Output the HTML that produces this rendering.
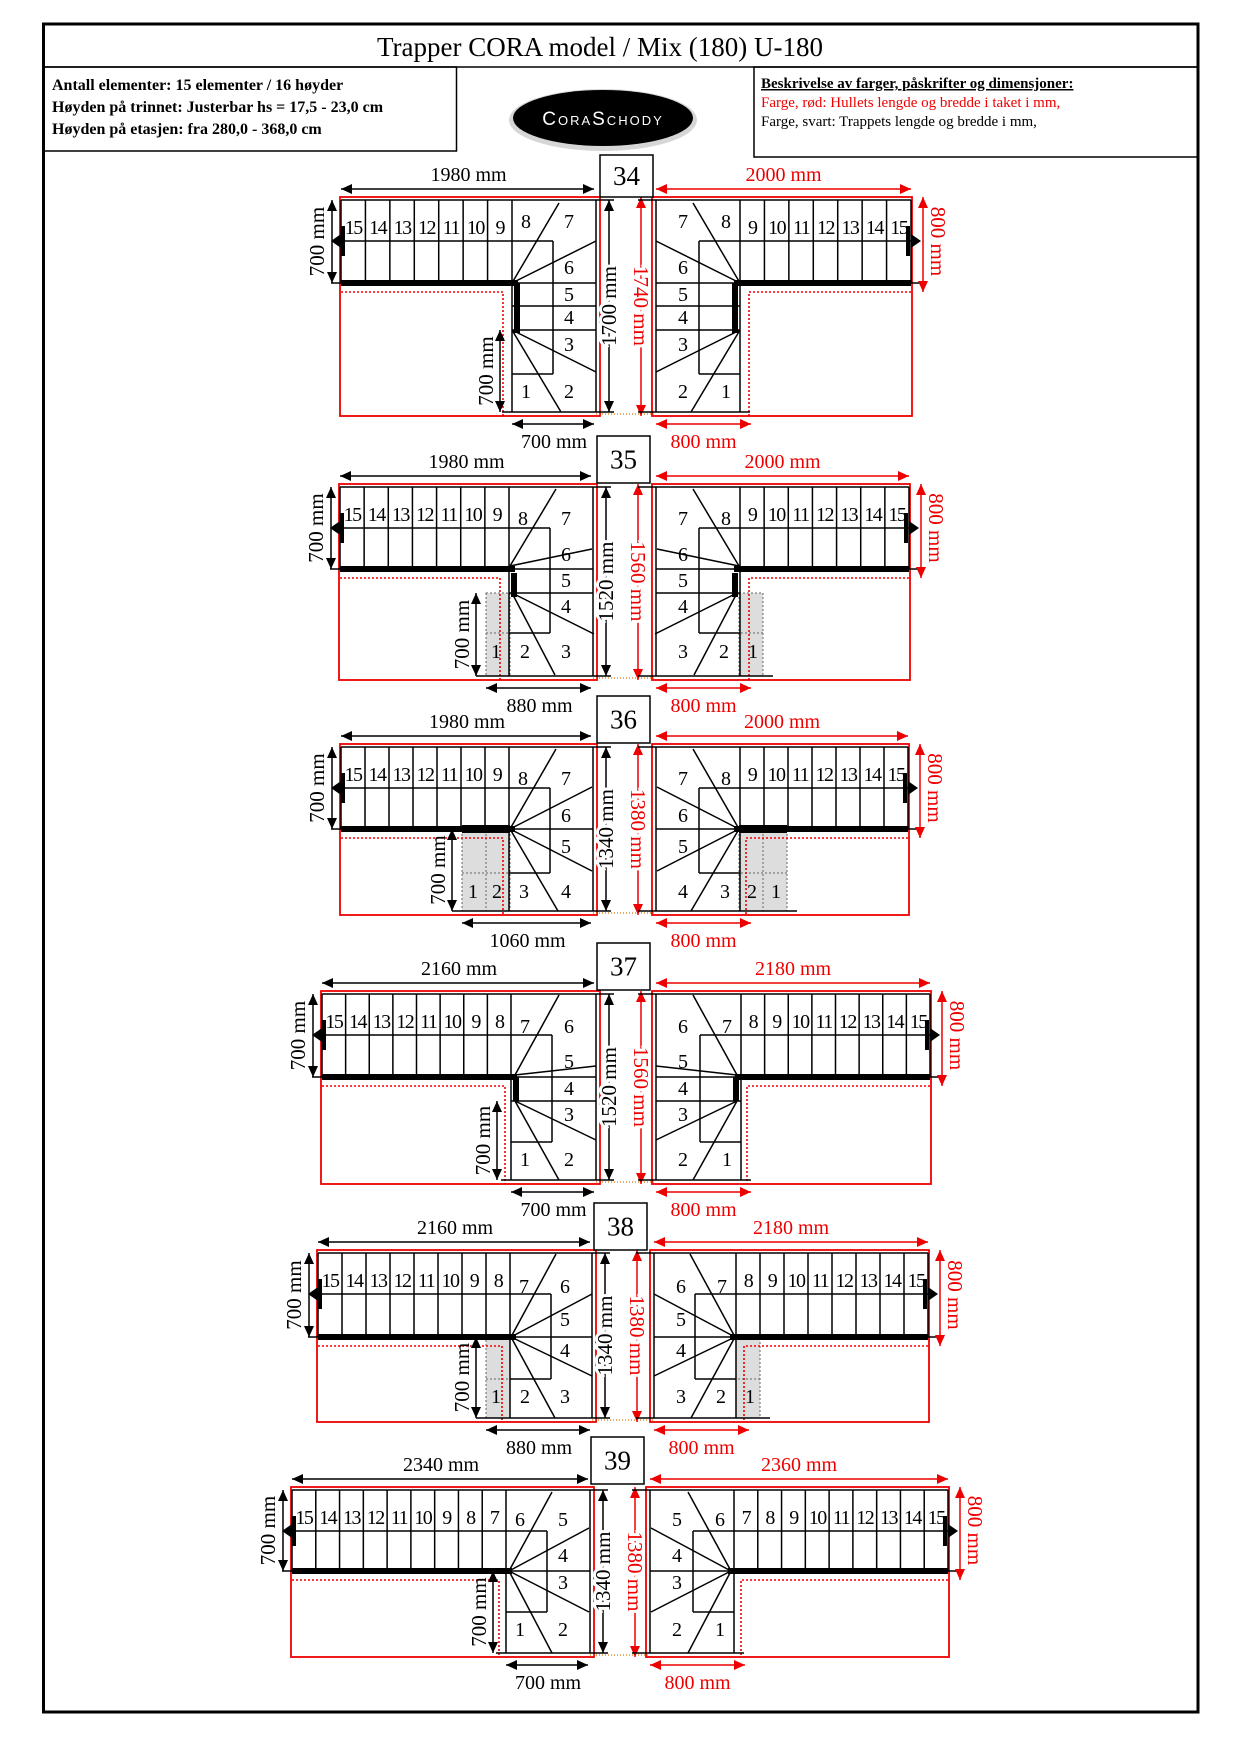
<!DOCTYPE html>
<html><head><meta charset="utf-8"><style>
html,body{margin:0;padding:0;background:#fff;}
svg{display:block;font-family:"Liberation Serif","DejaVu Serif",serif;}
</style></head><body>
<svg id="s" width="1240" height="1754" viewBox="0 0 1240 1754" xmlns="http://www.w3.org/2000/svg">
<rect x="0" y="0" width="1240" height="1754" fill="#fff"/>
<rect x="43.5" y="24" width="1154.5" height="1688" fill="none" stroke="#000" stroke-width="3"/>
<line x1="43" y1="67" x2="1198" y2="67" stroke="#000" stroke-width="1.5"/>
<text x="600" y="56" font-size="27" text-anchor="middle">Trapper CORA model / Mix (180) U-180</text>
<rect x="43.5" y="67" width="413" height="84" fill="none" stroke="#000" stroke-width="1.5"/>
<text x="52" y="90" font-size="16" font-weight="bold">Antall elementer: 15 elementer / 16 høyder</text>
<text x="52" y="112" font-size="16" font-weight="bold">Høyden på trinnet: Justerbar hs = 17,5 - 23,0 cm</text>
<text x="52" y="134" font-size="16" font-weight="bold">Høyden på etasjen: fra 280,0 - 368,0 cm</text>
<rect x="754" y="67" width="444" height="90" fill="none" stroke="#000" stroke-width="1.5"/>
<text x="761" y="88" font-size="15" font-weight="bold" text-decoration="underline">Beskrivelse av farger, påskrifter og dimensjoner:</text>
<text x="761" y="107" font-size="15" fill="#e00">Farge, rød: Hullets lengde og bredde i taket i mm,</text>
<text x="761" y="126" font-size="15">Farge, svart: Trappets lengde og bredde i mm,</text>
<ellipse cx="603" cy="120" rx="94" ry="31" fill="#bbb" opacity="0.6"/>
<ellipse cx="603" cy="118" rx="90" ry="28" fill="#000"/>
<text x="603" y="125" font-size="19" fill="#fff" text-anchor="middle" font-family="Liberation Sans, sans-serif" letter-spacing="2" style="font-variant:small-caps">CoraSchody</text>
<g id="g"></g>
</svg>
<script>
var S=[
{n:34,m:626,x0:341,x1:596,xc:512,yT:200,yM:283,yB:412,nb:374,nUp:7,low:512,inner:[500,330],steps:[283,306,330],hr:[283,333],gray:[],xd:503,box:[600,155,53,42],
 d:["1980 mm","700 mm","1700 mm","1740 mm","2000 mm","700 mm"],
 lab:[[8,'N',222],[7,'R',222],[6,'R',268],[5,'R',295],[4,'R',318],[3,'R',345],[2,'R',392],[1,'N',392]],
 dg:[[512,283,559,203],[512,283,596,241],[512,330,596,372],[512,330,561,412]]},
{n:35,m:624.5,x0:340,x1:593,xc:509,yT:487,yM:569,yB:676,nb:633,nUp:7,low:486,inner:[476,593],steps:[569,593],hr:[573,597],gray:[[486,593]],xd:500,box:[597,436,53,47],
 d:["1980 mm","700 mm","1520 mm","1560 mm","2000 mm","880 mm"],
 lab:[[8,'N',519],[7,'R',519],[6,'R',555],[5,'R',581],[4,'R',607],[3,'R',652],[2,525,652],[1,496,652]],
 dg:[[510,566,556,489],[510,566,592,549],[512,593,594,634],[512,593,555,675]]},
{n:36,m:624.5,x0:341,x1:593,xc:509,yT:747,yM:829,yB:911,nb:873,nUp:7,low:462,inner:[452,829],steps:[829],hr:null,blk:[462,825,48,8],gray:[[486,830],[462,830]],xd:503,box:[597,696,53,47],
 d:["1980 mm","700 mm","1340 mm","1380 mm","2000 mm","1060 mm"],
 lab:[[8,'N',779],[7,'R',779],[6,'R',816],[5,'R',847],[4,'R',892],[3,524,892],[2,497,892],[1,473,892]],
 dg:[[510,829,556,749],[510,829,592,787],[510,829,592,871],[510,829,558,911]]},
{n:37,m:626,x0:322,x1:596,xc:511,yT:994,yM:1077,yB:1180,nb:1142,nUp:8,low:511,inner:[497,1101],steps:[1077,1101],hr:[1077,1101],gray:[],xd:505,box:[597,943,53,47],
 d:["2160 mm","700 mm","1520 mm","1560 mm","2180 mm","700 mm"],
 lab:[[7,'N',1027],[6,'R',1027],[5,'R',1062],[4,'R',1089],[3,'R',1115],[2,'R',1160],[1,'N',1160]],
 dg:[[515,1075,559,995],[515,1075,596,1066],[515,1101,596,1140],[515,1101,559,1180]]},
{n:38,m:623,x0:318,x1:592,xc:510,yT:1253,yM:1337,yB:1418,nb:1379,nUp:8,low:486,inner:[476,1337],steps:[1337],hr:null,gray:[[486,1338]],xd:502,box:[594,1203,53,47],
 d:["2160 mm","700 mm","1340 mm","1380 mm","2180 mm","880 mm"],
 lab:[[7,'N',1287],[6,'R',1287],[5,'R',1320],[4,'R',1351],[3,'R',1397],[2,525,1397],[1,496,1397]],
 dg:[[511,1337,556,1254],[511,1337,592,1294],[511,1337,592,1376],[511,1337,555,1418]]},
{n:39,m:620,x0:292,x1:590,xc:506,yT:1490,yM:1571,yB:1653,nb:1612,nUp:9,low:506,inner:[493,1571],steps:[1571],hr:null,gray:[],xd:499,box:[591,1437,53,47],
 d:["2340 mm","700 mm","1340 mm","1380 mm","2360 mm","700 mm"],
 lab:[[6,'N',1520],[5,'R',1520],[4,'R',1556],[3,'R',1583],[2,'R',1630],[1,'N',1630]],
 dg:[[509,1571,552,1492],[509,1571,589,1528],[509,1571,589,1612],[509,1571,552,1653]]}
];
var o='';
function L(a,b,c,d,col,w,ex){o+='<line x1="'+a+'" y1="'+b+'" x2="'+c+'" y2="'+d+'" stroke="'+(col||'#000')+'" stroke-width="'+(w||1.5)+'" '+(ex||'')+'/>';}
function Rc(a,b,w,h,st,f,sw,ex){if(w<0){a+=w;w=-w;}o+='<rect x="'+a+'" y="'+b+'" width="'+w+'" height="'+h+'" fill="'+(f||'none')+'" stroke="'+st+'" stroke-width="'+(sw||1.5)+'" '+(ex||'')+'/>';}
function T(x,y,s,sz,col,rot,halo,ls){o+='<text x="'+x+'" y="'+y+'" font-size="'+sz+'" fill="'+(col||'#000')+'" text-anchor="middle" dominant-baseline="central"'+(rot?' transform="rotate('+rot+' '+x+' '+y+')"':'')+(halo?' stroke="#fff" stroke-width="6" paint-order="stroke"':'')+(ls?' letter-spacing="'+ls+'"':'')+'>'+s+'</text>';}
function A(x1,y1,x2,y2,col){col=col||'#000';L(x1,y1,x2,y2,col,1.5);
 var dx=x2-x1,dy=y2-y1,l=Math.sqrt(dx*dx+dy*dy);dx/=l;dy/=l;var h=11,w=5;
 function hd(px,py,ux,uy){o+='<polygon points="'+px+','+py+' '+(px-ux*h-uy*w)+','+(py-uy*h+ux*w)+' '+(px-ux*h+uy*w)+','+(py-uy*h-ux*w)+'" fill="'+col+'"/>';}
 hd(x2,y2,dx,dy);hd(x1,y1,-dx,-dy);}
S.forEach(function(s){
 for(var side=0;side<2;side++){
  var X=side?function(x){return 2*s.m-x}:function(x){return x};
  var x0=s.x0,x1=s.x1,xc=s.xc,yT=s.yT,yM=s.yM,yB=s.yB;
  s.gray.forEach(function(g){Rc(X(g[0]),g[1],side?-24:24,yB-g[1],'#666','#ddd',1,'stroke-dasharray="2,2"');
   L(X(g[0]),s.nb,X(g[0]+24),s.nb,'#666',1,'stroke-dasharray="2,2"');});
  Rc(X(x0-1),yT-3,side?-(x1-x0+5):(x1-x0+5),yB-yT+7,'#e00','none',1.8);
  o+='<path d="M'+X(x0)+' '+(yM+9)+' L'+X(s.xd)+' '+(yM+9)+' L'+X(s.xd)+' '+(yB+4)+'" fill="none" stroke="#e00" stroke-width="1.6" stroke-dasharray="2,2"/>';
  L(X(x0),yT,X(x1+18),yT);L(X(x0),yT,X(x0),yM);L(X(x0-10),yM,X(xc),yM);
  L(X(x1),yT,X(x1),yB);L(X(Math.min(s.low,xc)-10),yB,X(x1+18),yB);L(X(xc),yM,X(xc),yB);
  L(X(x0),yT+41,X(xc+41),yT+41);L(X(xc+41),yT+41,X(xc+41),s.nb);L(X(xc),s.nb,X(xc+41),s.nb);
  var dx=(xc-x0)/s.nUp;
  for(var i=1;i<=s.nUp;i++){L(X(x0+i*dx),yT,X(x0+i*dx),yM);}
  s.steps.forEach(function(y){L(X(xc),y,X(x1),y);});
  s.dg.forEach(function(d){L(X(d[0]),d[1],X(d[2]),d[3]);});
  Rc(X(x0),yM-3,side?-(xc+6-x0):(xc+6-x0),6,'none','#000',0);
  if(s.hr)Rc(X(side?xc+8:xc+2),s.hr[0],6,s.hr[1]-s.hr[0],'none','#000',0);
  if(s.blk)Rc(X(side?s.blk[0]+s.blk[2]:s.blk[0]),s.blk[1],s.blk[2],s.blk[3],'none','#000',0);
  Rc(X(side?x0+5:x0),yT+26,4,30,'none','#000',0);
  var ax=X(x0),sg=side?1:-1;
  o+='<polygon points="'+(ax+sg*10)+','+(yT+41)+' '+ax+','+(yT+34)+' '+ax+','+(yT+48)+'" fill="#000"/>';
  for(var i=0;i<s.nUp;i++){T(X(x0+(i+0.5)*dx),yT+28,15-i,20,'#000',0,false,-1.5);}
  s.lab.forEach(function(l){var x=l[1]=='N'?xc+14:(l[1]=='R'?x1-27:l[1]);T(X(x),l[2],l[0],20);});
  if(!side)L(x1,yB+2,2*s.m-x1,yB+2,'#d70',1.2,'stroke-dasharray="1,2"');
  if(!side){
   A(x0,yT-11,x1-2,yT-11);T((x0+x1)/2,yT-25,s.d[0],20);
   A(x0-9,yT,x0-9,yM);T(x0-24,(yT+yM)/2,s.d[1],21,'#000',-90);
   A(s.inner[0],s.inner[1],s.inner[0],yB);T(s.inner[0]-14,(s.inner[1]+yB)/2,'700 mm',21,'#000',-90);
   A(s.low,yB+12,x1-2,yB+12);T((s.low+x1)/2,yB+30,s.d[5],20);
   A(x1+13,yT,x1+13,yB);T(x1+13,(yT+yB)/2,s.d[2],21,'#000',-90,true);
   A(x1+45,yT-3,x1+45,yB+4,'#e00');T(x1+45,(yT+yB)/2,s.d[3],21,'#e00',90,true);
  } else {
   A(X(x1),yT-11,X(x0),yT-11,'#e00');T((X(x1)+X(x0))/2,yT-25,s.d[4],20,'#e00');
   A(X(x0-12),yT-3,X(x0-12),yM+9,'#e00');T(X(x0-27),(yT+yM)/2,'800 mm',21,'#e00',90);
   A(X(x1),yB+12,X(x1-95),yB+12,'#e00');T((X(x1)+X(x1-95))/2,yB+30,'800 mm',20,'#e00');
  }
 }
 var b=s.box;Rc(b[0],b[1],b[2],b[3],'#000','#fff',1.5);T(b[0]+b[2]/2,b[1]+b[3]/2,s.n,27);
});
document.getElementById('g').innerHTML=o;
</script>
</body></html>
